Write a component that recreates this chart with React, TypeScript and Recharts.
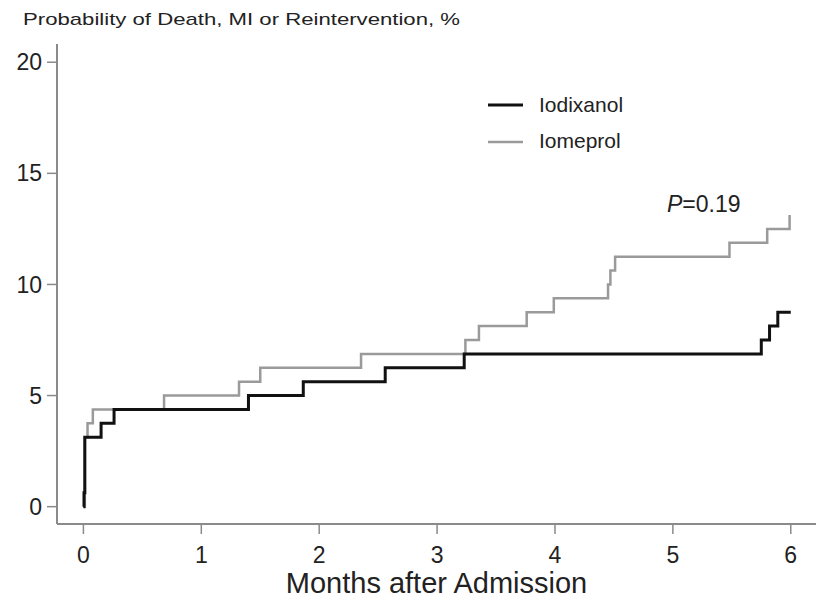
import React from 'react';
import { LineChart, Line, XAxis, YAxis, Legend, Customized } from 'recharts';

const iodixanolMonths = [0, 0.005, 0.012, 0.15, 0.26, 1.40, 1.865, 2.56, 3.23, 5.75, 5.82, 5.89, 6.0];
const iodixanolValues = [0, 0.625, 3.125, 3.75, 4.375, 5.0, 5.625, 6.25, 6.875, 7.5, 8.125, 8.75, 8.75];

const iomeprolMonths = [0, 0.012, 0.035, 0.08, 0.684, 1.32, 1.50, 2.355, 3.24, 3.355, 3.76, 3.99, 4.45, 4.47, 4.51, 5.48, 5.80, 5.99];
const iomeprolValues = [0, 3.125, 3.75, 4.375, 5.0, 5.625, 6.25, 6.875, 7.5, 8.125, 8.75, 9.375, 10.0, 10.625, 11.25, 11.875, 12.5, 13.125];

const xTicks = [0, 1, 2, 3, 4, 5, 6];
const yTicks = [0, 5, 10, 15, 20];

const seriesNames = ['Iodixanol', 'Iomeprol'];
const titleText = 'Probability of Death, MI or Reintervention, %';
const xLabel = 'Months after Admission';
const pText = '=0.19';

const iodixanolData = iodixanolMonths.map((m, i) => ({ month: m, value: iodixanolValues[i] }));
const iomeprolData = iomeprolMonths.map((m, i) => ({ month: m, value: iomeprolValues[i] }));

const FONT = '"Liberation Sans", Arial, Helvetica, sans-serif';
const FRAME = '#8a8a8a';
const TEXT = '#222';
const BLACK = '#111111';
const GRAY = '#9a9a9a';

const LegendContent = () => (
  <svg width={200} height={80} style={{ display: 'block' }}>
    <line x1={8} x2={43} y1={20} y2={20} stroke={BLACK} strokeWidth={3} />
    <text x={59} y={27} fontSize={21} fontFamily={FONT} fill={TEXT}>{seriesNames[0]}</text>
    <line x1={8} x2={43} y1={57} y2={57} stroke={GRAY} strokeWidth={2.5} />
    <text x={59} y={63} fontSize={21} fontFamily={FONT} fill={TEXT}>{seriesNames[1]}</text>
  </svg>
);

const Annotations = () => (
  <g>
    <text x={23} y={25} fontSize={17} fontFamily={FONT} fill={TEXT} textLength={437} lengthAdjust="spacingAndGlyphs">{titleText}</text>
    <text x={667} y={212} fontSize={23} fontFamily={FONT} fill={TEXT}>
      <tspan fontStyle="italic">P</tspan>
      <tspan>{pText}</tspan>
    </text>
  </g>
);

export default function App() {
  return (
    <div style={{ position: 'absolute', left: 0, top: 0, width: 818, height: 603, background: '#fff' }}>
      <LineChart width={818} height={603} margin={{ top: 44, right: 2, bottom: 0, left: 0 }}>
        <XAxis
          xAxisId={0}
          type="number"
          dataKey="month"
          domain={[-0.224, 6.214]}
          allowDataOverflow
          ticks={xTicks}
          height={79}
          tickSize={10}
          tickMargin={13}
          stroke={FRAME}
          strokeWidth={2}
          tick={{ fontSize: 23, fontFamily: FONT, fill: TEXT }}
          tickLine={{ stroke: FRAME, strokeWidth: 1.5 }}
          label={{ value: xLabel, position: 'insideBottom', offset: 10, fontSize: 29, fontFamily: FONT, fill: TEXT }}
        />
        <XAxis
          xAxisId="top"
          orientation="top"
          type="number"
          dataKey="month"
          domain={[-0.224, 6.214]}
          allowDataOverflow
          height={0}
          tick={false}
          tickLine={false}
          stroke={FRAME}
          strokeWidth={2}
        />
        <YAxis
          yAxisId={0}
          type="number"
          domain={[-0.78, 20.82]}
          allowDataOverflow
          ticks={yTicks}
          width={57}
          tickSize={10}
          tickMargin={5}
          stroke={FRAME}
          strokeWidth={2}
          tick={{ fontSize: 23, fontFamily: FONT, fill: TEXT }}
          tickLine={{ stroke: FRAME, strokeWidth: 1.5 }}
        />
        <YAxis
          yAxisId="right"
          orientation="right"
          type="number"
          domain={[-0.78, 20.82]}
          allowDataOverflow
          width={0}
          tick={false}
          tickLine={false}
          stroke={FRAME}
          strokeWidth={2}
        />
        <Line
          data={iomeprolData}
          dataKey="value"
          name={seriesNames[1]}
          type="stepAfter"
          stroke={GRAY}
          strokeWidth={2.5}
          dot={false}
          activeDot={false}
          isAnimationActive={false}
        />
        <Line
          data={iodixanolData}
          dataKey="value"
          name={seriesNames[0]}
          type="stepAfter"
          stroke={BLACK}
          strokeWidth={3}
          dot={false}
          activeDot={false}
          isAnimationActive={false}
        />
        <Legend
          layout="vertical"
          align="center"
          verticalAlign="middle"
          wrapperStyle={{ position: 'absolute', left: 480, top: 85, width: 200, height: 80 }}
          content={<LegendContent />}
        />
        <Customized component={<Annotations />} />
      </LineChart>
    </div>
  );
}
